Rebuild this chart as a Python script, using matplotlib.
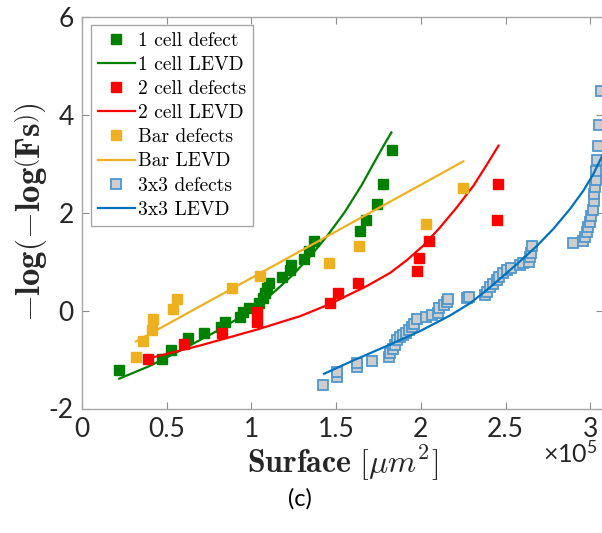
import numpy as np
import matplotlib as mpl
mpl.use('Agg')
import matplotlib.pyplot as plt

# surfaces are in units of 1e5 um^2, ordinates are -log(-log(Fs))
one_x = [0.220, 0.470, 0.524, 0.628, 0.722, 0.819, 0.846, 0.933, 0.952, 0.986, 1.047,
         1.067, 1.078, 1.090, 1.106, 1.179, 1.228, 1.232, 1.311, 1.338, 1.370,
         1.641, 1.675, 1.740, 1.775, 1.828]
one_y = [-1.22, -0.98, -0.80, -0.55, -0.46, -0.34, -0.23, -0.13, -0.03, 0.05, 0.15,
         0.25, 0.35, 0.47, 0.57, 0.69, 0.84, 0.93, 1.06, 1.22, 1.42,
         1.62, 1.86, 2.17, 2.59, 3.29]
one_fit_x = [0.22, 0.40, 0.60, 0.80, 0.95, 1.05, 1.15, 1.25, 1.35, 1.45, 1.55, 1.65, 1.72, 1.78, 1.826]
one_fit_y = [-1.39, -1.13, -0.78, -0.41, -0.10, 0.13, 0.43, 0.75, 1.12, 1.54, 2.01, 2.56, 3.00, 3.37, 3.64]

two_x = [0.392, 0.602, 0.828, 1.035, 1.035, 1.464, 1.513, 1.627, 1.976, 1.990, 2.050, 2.452, 2.458]
two_y = [-0.98, -0.68, -0.45, -0.03, -0.23, 0.15, 0.35, 0.57, 0.81, 1.08, 1.42, 1.86, 2.59]
two_fit_x = [0.378, 0.70, 1.03, 1.29, 1.46, 1.68, 1.818, 1.917, 2.015, 2.113, 2.212, 2.310, 2.389, 2.458]
two_fit_y = [-0.99, -0.71, -0.39, -0.11, 0.13, 0.50, 0.77, 1.03, 1.33, 1.70, 2.11, 2.55, 2.98, 3.37]

bar_x = [0.319, 0.358, 0.411, 0.421, 0.539, 0.559, 0.887, 1.051, 1.458, 1.635, 2.031, 2.251]
bar_y = [-0.95, -0.63, -0.39, -0.18, 0.03, 0.24, 0.46, 0.71, 0.98, 1.32, 1.78, 2.51]
bar_fit_x = [0.319, 2.251]
bar_fit_y = [-0.63, 3.05]

sq_x = [1.425, 1.503, 1.507, 1.621, 1.625, 1.710, 1.814, 1.818, 1.834, 1.848, 1.858,
        1.877, 1.897, 1.913, 1.932, 1.946, 1.960, 1.976, 2.031, 2.064, 2.104, 2.110,
        2.137, 2.153, 2.159, 2.271, 2.286, 2.379, 2.392, 2.409, 2.424, 2.448, 2.463,
        2.487, 2.511, 2.531, 2.586, 2.601, 2.641, 2.645, 2.651, 2.656, 2.897, 2.956,
        2.969, 2.979, 2.989, 2.999, 3.007, 3.015, 3.019, 3.023, 3.029, 3.032, 3.034,
        3.042, 3.048, 3.054, 3.066]
sq_y = [-1.51, -1.35, -1.26, -1.15, -1.08, -1.02, -0.95, -0.87, -0.78, -0.70, -0.61,
        -0.54, -0.49, -0.45, -0.39, -0.34, -0.27, -0.18, -0.13, -0.09, -0.05, 0.06,
        0.12, 0.18, 0.23, 0.25, 0.27, 0.32, 0.39, 0.49, 0.54, 0.62, 0.69,
        0.77, 0.83, 0.87, 0.93, 0.98, 1.00, 1.09, 1.17, 1.32, 1.38, 1.42,
        1.50, 1.61, 1.71, 1.81, 1.94, 2.06, 2.25, 2.39, 2.52, 2.66, 2.86,
        3.08, 3.37, 3.80, 4.49]
sq_fit_x = [1.429, 1.60, 1.80, 2.00, 2.172, 2.290, 2.389, 2.487, 2.586, 2.684, 2.782, 2.881, 2.959, 3.018, 3.070]
sq_fit_y = [-1.29, -1.02, -0.72, -0.41, -0.10, 0.15, 0.42, 0.71, 1.01, 1.32, 1.67, 2.08, 2.45, 2.79, 3.16]

green = '#008000'
red = '#ff0000'
yellow = '#edb120'
blue = '#0072bd'
ms = 6.5
lw = 1.6
tickfont = 'Lato'

plt.rcParams['mathtext.fontset'] = 'cm'

fig = plt.figure(figsize=(6.02, 5.33), dpi=100)
ax = fig.add_axes([82/602, 124.5/533, 521.5/602, 391.5/533])

ax.plot(one_x, one_y, 's', color=green, ms=ms, mec=green, label='1 cell defect', clip_on=False)
ax.plot(one_fit_x, one_fit_y, '-', color=green, lw=lw, label='1 cell LEVD')
ax.plot(two_x, two_y, 's', color=red, ms=ms, mec=red, label='2 cell defects', clip_on=False)
ax.plot(two_fit_x, two_fit_y, '-', color=red, lw=lw, label='2 cell LEVD')
ax.plot(bar_x, bar_y, 's', color=yellow, ms=ms, mec=yellow, label='Bar defects', clip_on=False)
ax.plot(bar_fit_x, bar_fit_y, '-', color=yellow, lw=lw, label='Bar LEVD')
ax.plot(sq_x, sq_y, 's', mfc='#cdcdcd', mec='#4f97cf', mew=1.3, ms=ms, label='3x3 defects', clip_on=False)
ax.plot(sq_fit_x, sq_fit_y, '-', color=blue, lw=lw, label='3x3 LEVD')

ax.set_xlim(0, 3.078)
ax.set_ylim(-2, 6)
ax.set_xticks(np.arange(0, 3.01, 0.5))
ax.set_xticklabels(['0', '0.5', '1', '1.5', '2', '2.5', '3'])
ax.set_yticks([-2, 0, 2, 4, 6])
ax.set_yticklabels(['-2', '0', '2', '4', '6'])
ax.tick_params(direction='in', length=5, width=0.8, color='#8c8c8c', top=True, right=True,
               labelsize=19, labelcolor='#262626', pad=6)
for lab in ax.get_xticklabels() + ax.get_yticklabels():
    lab.set_family(tickfont)
for s in ax.spines.values():
    s.set_color('#a6a6a6')
    s.set_linewidth(1.0)

ax.set_xlabel(r'$\mathbf{Surface}\ [\mu m^2]$', fontsize=23, labelpad=1, color='#262626')
ax.set_ylabel(r'$\mathbf{-log\left(-log\left(Fs\right)\right)}$', fontsize=25, labelpad=0, color='#262626')

fig.text(598/602, 1 - 453/533, r'$\mathregular{\times10^5}$', fontsize=18, family=tickfont,
         ha='right', va='center', color='#262626')
fig.text(300/602, 1 - 499/533, '(c)', fontsize=17, family=tickfont, ha='center', va='center')

leg = ax.legend(loc='upper left', bbox_to_anchor=(9/521.5, 1 - 8/391.5), borderaxespad=0,
                prop={'family': 'cmr10', 'size': 14}, handlelength=1.9, handletextpad=0.15,
                labelspacing=0.32, borderpad=0.35, fancybox=False, framealpha=1)
leg.get_frame().set_edgecolor('#a6a6a6')
leg.get_frame().set_linewidth(1.0)

fig.savefig('out.png', dpi=100)
